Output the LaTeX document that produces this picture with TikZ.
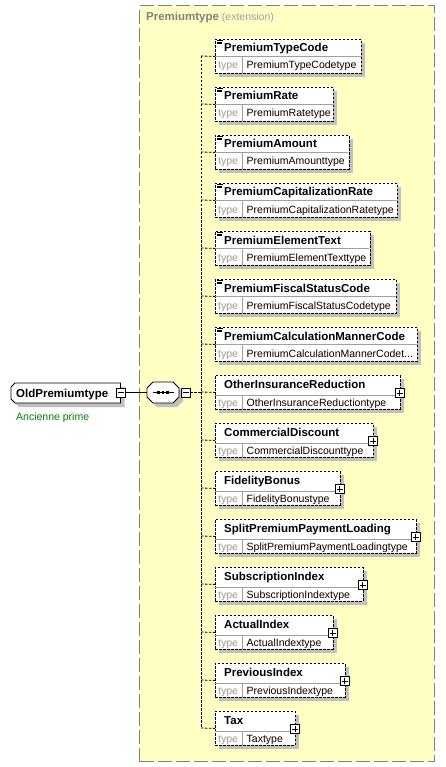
\documentclass[tikz,border=0pt]{standalone}
\usepackage{fontspec}
\setmainfont{Liberation Sans}
\usetikzlibrary{shadows}
\definecolor{yel}{HTML}{FFFFC4}
\definecolor{shadowc}{HTML}{C0C0C0}
\definecolor{grayt}{HTML}{808080}
\definecolor{grayl}{HTML}{A0A0A0}
\definecolor{typeg}{HTML}{999999}
\definecolor{greent}{HTML}{008000}
\definecolor{divg}{HTML}{A0A0A0}
\tikzset{
  nametext/.style={font=\fontsize{11.5}{12}\selectfont\bfseries, inner sep=0pt, anchor=base west},
  typetext/.style={font=\fontsize{10.5}{11}\selectfont, inner sep=0pt, anchor=base west},
  typelbl/.style={typetext, text=typeg},
  myshadow/.style={drop shadow={shadow xshift=4pt, shadow yshift=-4pt, fill=shadowc, opacity=1}},
  ebox/.style={draw, line width=0.8pt, dash pattern=on 2.5pt off 1.5pt, fill=white, inner sep=0pt,
    minimum height=34pt, anchor=north west, myshadow},
  conn/.style={line width=0.8pt, dash pattern=on 2.5pt off 1.5pt},
  divline/.style={draw=divg, line width=0.8pt},
  smallbox/.style={draw, fill=white, line width=0.8pt, minimum size=9pt, inner sep=0pt},
  signline/.style={line width=0.8pt},
  iconline/.style={line width=0.45pt},
  container/.style={draw=grayt, fill=yel, line width=1.4pt, dash pattern=on 14pt off 4pt,
    inner sep=0pt, anchor=north west},
  anchorbox/.style={inner sep=0pt},
  shapeline/.style={draw, fill=white, line width=0.8pt},
  shapeshadow/.style={fill=shadowc},
}
% #1 id, #2 top, #3 right edge, #4 name, #5 type, #6 kind (0 icon, 1 plus)
\newcommand\elembox[6]{%
  \node[ebox, minimum width={#3-215}] (#1) at (215,#2) {};
  \ifnum#6=1 \def\dvy{20}\def\nb{13.3}\def\tb{31}\else\def\dvy{17}\def\nb{13}\def\tb{30}\fi
  \draw[divline] (215.4,#2+\dvy) -- (#3-0.4,#2+\dvy);
  \draw[divline] (242,#2+\dvy) -- (242,#2+33.6);
  \node[nametext] (#1n) at (224,#2+\nb) {#4};
  \node[typelbl] (#1l) at (218,#2+\tb) {type};
  \node[typetext] (#1t) at (246.5,#2+\tb) {#5};
  \ifnum#6=1
    \node[smallbox] (#1p) at (#3,#2+18) {};
    \draw[signline] ([xshift=-3pt]#1p.center) -- ([xshift=3pt]#1p.center);
    \draw[signline] ([yshift=-3pt]#1p.center) -- ([yshift=3pt]#1p.center);
  \else
    \draw[iconline] (217,#2+1.3) -- (222.5,#2+1.3);
    \draw[iconline] (217,#2+2.9) -- (222,#2+2.9);
    \draw[iconline] (217,#2+4.5) -- (222,#2+4.5);
  \fi
  \draw[conn] (201,#2+17) -- (#1.west);
}
\begin{document}
\begin{tikzpicture}[x=1pt,y=-1pt]
\useasboundingbox (0,0) rectangle (445,767);
\fill[white] (0,0) rectangle (445,767);
% container
\node[container, minimum width=295pt, minimum height=756pt] (ext) at (139,5) {};
\node[anchor=base west, inner sep=0pt, text=grayt, font=\fontsize{11.5}{12}\selectfont\bfseries] (title) at (146,21)
  {Premiumtype\textcolor{grayl}{\mdseries\fontsize{10.5}{11}\selectfont{} (extension)}};
% vertical connector line
\coordinate (vtop) at (201,56);
\coordinate (vbot) at (201,728);
\draw[conn] (vtop) -- (vbot);
% elements
\elembox{e1}{39}{361}{PremiumTypeCode}{PremiumTypeCodetype}{0}
\elembox{e2}{87}{333}{PremiumRate}{PremiumRatetype}{0}
\elembox{e3}{135}{348.5}{PremiumAmount}{PremiumAmounttype}{0}
\elembox{e4}{183}{397}{PremiumCapitalizationRate}{PremiumCapitalizationRatetype}{0}
\elembox{e5}{231}{369.5}{PremiumElementText}{PremiumElementTexttype}{0}
\elembox{e6}{279}{396}{PremiumFiscalStatusCode}{PremiumFiscalStatusCodetype}{0}
\elembox{e7}{327}{417}{PremiumCalculationMannerCode}{PremiumCalculationMannerCodet...}{0}
\elembox{e8}{375}{399.5}{OtherInsuranceReduction}{OtherInsuranceReductiontype}{1}
\elembox{e9}{423}{373}{CommercialDiscount}{CommercialDiscounttype}{1}
\elembox{e10}{471}{339.5}{FidelityBonus}{FidelityBonustype}{1}
\elembox{e11}{519}{415.5}{SplitPremiumPaymentLoading}{SplitPremiumPaymentLoadingtype}{1}
\elembox{e12}{567}{362.5}{SubscriptionIndex}{SubscriptionIndextype}{1}
\elembox{e13}{615}{332.5}{ActualIndex}{ActualIndextype}{1}
\elembox{e14}{663}{344.5}{PreviousIndex}{PreviousIndextype}{1}
\elembox{e15}{711}{295}{Tax}{Taxtype}{1}
% sequence compositor
\fill[shapeshadow] (157,386) -- (177,386) -- (183,392) -- (183,401) -- (177,407) -- (157,407) -- (151,401) -- (151,392) -- cycle;
\node[anchorbox, minimum width=32pt, minimum height=21pt] (seq) at (163,392.5) {};
\draw[shapeline] (153,382) -- (173,382) -- (179,388) -- (179,397) -- (173,403) -- (153,403) -- (147,397) -- (147,388) -- cycle;
\draw[line width=0.8pt] (152.5,392.5) -- (173.5,392.5);
\fill (157.2,391.1) rectangle +(2.8,2.8);
\fill (161.6,391.1) rectangle +(2.8,2.8);
\fill (166,391.1) rectangle +(2.8,2.8);
\node[smallbox] (seqm) at (185.5,392.5) {};
\draw[signline] ([xshift=-3pt]seqm.center) -- ([xshift=3pt]seqm.center);
% root element
\fill[shapeshadow] (19,387) -- (124.5,387) -- (124.5,407) -- (19,407) -- (15,403) -- (15,391) -- cycle;
\node[anchorbox, minimum width=109.5pt, minimum height=20pt, anchor=north west] (root) at (11,383) {};
\draw[shapeline] (15,383) -- (120.5,383) -- (120.5,403) -- (15,403) -- (11,399) -- (11,387) -- cycle;
\node[nametext] (rootn) at (16,397) {OldPremiumtype};
\node[smallbox] (rootm) at (120.5,392.5) {};
\draw[signline] ([xshift=-3pt]rootm.center) -- ([xshift=3pt]rootm.center);
\node[anchor=base west, inner sep=0pt, text=greent, font=\fontsize{10.5}{11}\selectfont] (doc) at (16,420) {Ancienne prime};
\draw[line width=0.8pt] (rootm.east) -- (seq.west);
\draw[conn] (seqm.east) -- (vtop |- seqm.east);
\end{tikzpicture}
\end{document}
